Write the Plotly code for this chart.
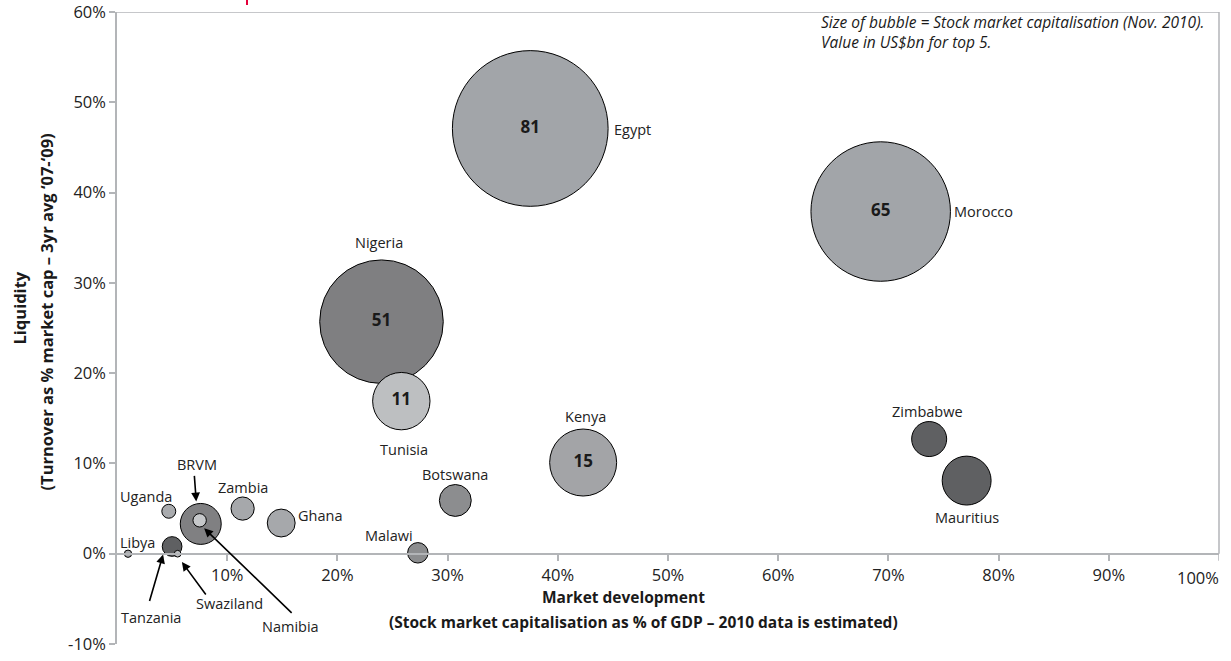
import plotly.graph_objects as go

# ---------------- data ----------------
countries = ["Egypt", "Morocco", "Nigeria", "Tunisia", "Kenya", "Zimbabwe", "Mauritius",
             "Botswana", "Malawi", "Ghana", "Zambia", "Uganda", "BRVM", "Namibia",
             "Tanzania", "Swaziland", "Libya"]
market_dev = [0.375, 0.693, 0.240, 0.258, 0.423, 0.737, 0.771,
              0.307, 0.273, 0.149, 0.114, 0.047, 0.076, 0.075,
              0.050, 0.055, 0.010]
liquidity = [0.471, 0.379, 0.257, 0.169, 0.101, 0.127, 0.081,
             0.059, 0.001, 0.034, 0.050, 0.047, 0.033, 0.037,
             0.008, 0.000, 0.000]
market_cap = [81, 65, 51, 11, 15, 4.1, 8.0,
              3.4, 1.4, 2.6, 1.8, 0.65, 5.6, 0.6,
              1.3, 0.15, 0.18]
cap_labels = ["81", "65", "51", "11", "15", "", "",
              "", "", "", "", "", "", "",
              "", "", ""]

x_tickvals = [0.1, 0.2, 0.3, 0.4, 0.5, 0.6, 0.7, 0.8, 0.9, 1.0]
x_ticktext = ["10%", "20%", "30%", "40%", "50%", "60%", "70%", "80%", "90%", "100%"]
y_tickvals = [-0.1, 0.0, 0.1, 0.2, 0.3, 0.4, 0.5, 0.6]
y_ticktext = ["-10%", "0%", "10%", "20%", "30%", "40%", "50%", "60%"]

# ---------------- styles ----------------
colors = {
    "Egypt": "#a2a5a9", "Morocco": "#a2a5a9", "Nigeria": "#7f7f81", "Tunisia": "#bdbfc1",
    "Kenya": "#a3a4a7", "Zimbabwe": "#5f6062", "Mauritius": "#5f6062", "Botswana": "#8c8d8f",
    "Malawi": "#8c8d8f", "Ghana": "#a6a8ab", "Zambia": "#a6a8ab", "Uganda": "#a9abae",
    "BRVM": "#808082", "Namibia": "#c6c8ca", "Tanzania": "#5f6062", "Swaziland": "#c0c2c4",
    "Libya": "#a9abae",
}
FONT = "Open Sans"
W, H = 1231, 661                      # page body margin is removed by post_script
ML, MT = 117, 12
MR, MB = W - 1219, H - 644
PW, PH = W - ML - MR, H - MT - MB
TICK_SIZE = 16.5

def px_to_paper(px, py):
    return (px - ML) / PW, (H - MB - py) / PH

# label offsets (pixels, dx right, dy down) relative to bubble centre, and anchor
label_pos = {
    "Egypt": (82, 1, "left"), "Morocco": (71, 0, "left"),
    "Nigeria": (-2, -79, "center"), "Tunisia": (3, 48, "center"),
    "Kenya": (2, -46, "center"), "Zimbabwe": (-2, -28, "center"),
    "Mauritius": (0, 37, "center"), "Botswana": (0, -26, "center"),
    "Malawi": (-29, -17, "center"), "Ghana": (15, -8, "left"),
    "Zambia": (0, -21, "center"), "Uganda": (-23, -15, "center"),
    "BRVM": (-4, -59, "center"), "Libya": (9, -11, "center"),
    "Tanzania": (-21, 71, "center"), "Swaziland": (52, 50, "center"),
    "Namibia": (91, 106, "center"),
}
# arrows: head shift (dx, dy) from centre, tail offset (ax, ay) from head
arrows = {
    "BRVM": (-4.5, -22.5, -2, -27),
    "Tanzania": (-9, 8, -14, 48),
    "Swaziland": (4.3, 8.3, 25, 34),
    "Namibia": (4.5, 8, 89, 86),
}

fig = go.Figure()
fig.add_trace(go.Scatter(
    x=market_dev, y=liquidity, mode="markers+text",
    text=cap_labels, textposition="middle center",
    textfont=dict(family=FONT, size=17, color="#1a1a1a", weight="bold"),
    marker=dict(size=market_cap, sizemode="area", sizeref=2 / 17.3 ** 2,
                color=[colors[c] for c in countries],
                line=dict(color="#000000", width=1), opacity=1),
    cliponaxis=False, hoverinfo="skip", showlegend=False,
))

annotations = []
for c, x, y in zip(countries, market_dev, liquidity):
    dx, dy, anchor = label_pos[c]
    annotations.append(dict(
        x=x, y=y, xref="x", yref="y", text=c, showarrow=False,
        xanchor=anchor, yanchor="middle", xshift=dx, yshift=-dy,
        font=dict(family=FONT, size=14.5, color="#222222"),
    ))
    if c in arrows:
        hx, hy, ax, ay = arrows[c]
        annotations.append(dict(
            x=x, y=y, xref="x", yref="y", text="", showarrow=True,
            xshift=hx, yshift=-hy, ax=ax, ay=ay, axref="pixel", ayref="pixel",
            arrowhead=2, arrowsize=1.1, arrowwidth=1.6, arrowcolor="#000000",
        ))

# last x tick label, kept inside the frame as in the original
annotations.append(dict(
    x=x_tickvals[-1], y=0, xref="x", yref="y", text=x_ticktext[-1], showarrow=False,
    xanchor="right", yanchor="top", xshift=2, yshift=-10,
    font=dict(family=FONT, size=TICK_SIZE, color="#222222"),
))

def add_text(px, py, text, size, bold=False, italic=False, angle=0, xanchor="center",
             yanchor="middle", align="center"):
    xp, yp = px_to_paper(px, py)
    annotations.append(dict(
        x=xp, y=yp, xref="paper", yref="paper", text=text, showarrow=False,
        xanchor=xanchor, yanchor=yanchor, textangle=angle, align=align,
        font=dict(family=FONT, size=size, color="#1a1a1a",
                  weight="bold" if bold else "normal", style="italic" if italic else "normal"),
    ))

add_text(623, 609.5, "Market development", 15.5, bold=True, yanchor="bottom")
add_text(643, 608.5, "(Stock market capitalisation as % of GDP – 2010 data is estimated)", 15.5,
         bold=True, yanchor="top")
add_text(32, 308, "Liquidity", 16.5, bold=True, angle=-90, xanchor="right")
add_text(32, 312, "(Turnover as % market cap – 3yr avg ‘07-‘09)", 16.5, bold=True, angle=-90,
         xanchor="left")
add_text(819, 9, "Size of bubble = Stock market capitalisation (Nov. 2010).<br>"
                 "Value in US$bn for top 5.", 15.5, italic=True, xanchor="left", yanchor="top",
         align="left")

axis_col = "#b3b5b8"
red_x, red_y0 = px_to_paper(247, 0)
_, red_y1 = px_to_paper(247, 5)
shapes = [
    dict(type="line", xref="paper", yref="y", x0=0, x1=1, y0=0.6, y1=0.6,
         line=dict(color=axis_col, width=1.5)),
    dict(type="line", xref="paper", yref="y", x0=1, x1=1, y0=0, y1=0.6,
         line=dict(color=axis_col, width=1.5)),
    dict(type="line", xref="paper", yref="paper", x0=red_x, x1=red_x, y0=red_y0, y1=red_y1,
         line=dict(color="#e4003a", width=2)),
    # tick at 100% (its label is an annotation)
    dict(type="line", xref="x", yref="paper", x0=1, x1=1,
         y0=0.1 / 0.7, y1=0.1 / 0.7 - 7 / PH, line=dict(color=axis_col, width=1.5)),
]

fig.update_layout(
    width=W, height=H, autosize=False,
    margin=dict(l=ML, r=MR, t=MT, b=MB, autoexpand=False),
    paper_bgcolor="white", plot_bgcolor="white",
    font=dict(family=FONT, color="#222222"),
    xaxis=dict(range=[0, 1], tickvals=x_tickvals[:-1], ticktext=x_ticktext[:-1],
               showgrid=False, zeroline=False, showline=True, linecolor=axis_col, linewidth=1.5,
               ticks="outside", ticklen=7, tickcolor=axis_col, tickwidth=1.5,
               tickfont=dict(family=FONT, size=TICK_SIZE, color="#222222"),
               anchor="free", position=0.1 / 0.7, automargin=False),
    yaxis=dict(range=[-0.1, 0.6], tickvals=y_tickvals, ticktext=y_ticktext,
               showgrid=False, zeroline=False, showline=True, linecolor=axis_col, linewidth=1.5,
               ticks="outside", ticklen=6, tickcolor=axis_col, tickwidth=1.5,
               ticklabeloverflow="allow", automargin=False,
               tickfont=dict(family=FONT, size=TICK_SIZE, color="#222222")),
    annotations=annotations, shapes=shapes,
)

fig.write_html(
    "out.html",
    config={"displayModeBar": False, "responsive": False},
    post_script="document.body.style.margin='0px';document.body.style.overflow='hidden';",
)
